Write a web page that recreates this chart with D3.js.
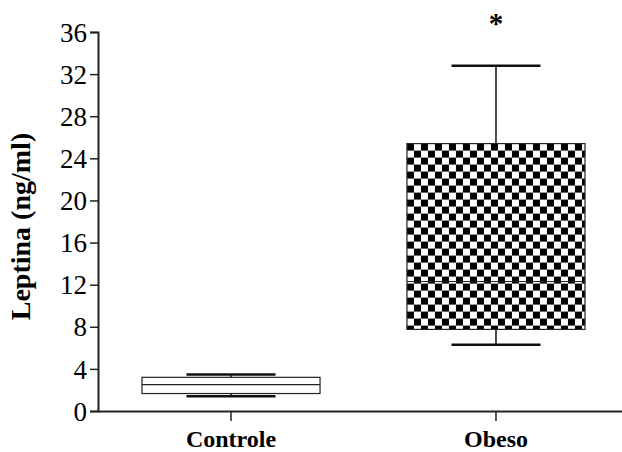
<!DOCTYPE html>
<html>
<head>
<meta charset="utf-8">
<script src="https://cdn.jsdelivr.net/npm/d3@7"></script>
<style>
  body { margin: 0; background: #fff; }
  text { font-family: "Liberation Serif", "Times New Roman", serif; }
</style>
</head>
<body>
<div id="chart"></div>
<script>
// box plot values (ng/ml)
let groups = ["Controle", "Obeso"];
let whiskerLow = [1.4, 6.3];
let q1 = [1.66, 7.75];
let medians = [2.5, 12.3];
let q3 = [3.2, 25.4];
let whiskerHigh = [3.47, 32.8];
let yTicks = [0, 4, 8, 12, 16, 20, 24, 28, 32, 36];
let marks = ["", "*"];

let width = 622, height = 452;
let margin = {top: 32, right: -7, bottom: 41, left: 98};

let svg = d3.select('#chart').append('svg')
  .attr("width", width)
  .attr("height", height);

// checkerboard fill for the second group
let defs = svg.append("defs");
let pat = defs.append("pattern")
  .attr("id", "checker")
  .attr("patternUnits", "userSpaceOnUse")
  .attr("width", 14)
  .attr("height", 14);
pat.append("rect").attr("width", 14).attr("height", 14).attr("fill", "#fff");
pat.append("rect").attr("width", 7).attr("height", 7).attr("fill", "#000");
pat.append("rect").attr("x", 7).attr("y", 7).attr("width", 7).attr("height", 7).attr("fill", "#000");

let y = d3.scaleLinear()
  .domain([0, 36])
  .range([height - margin.bottom, margin.top]);

// range runs a little past the right edge, the axis line is clipped there
let x = d3.scaleBand()
  .domain(groups)
  .range([margin.left, width - margin.right])
  .paddingInner(0.328)
  .paddingOuter(0.166);

// axes
let yAxis = svg.append("g")
  .attr("transform", `translate(${margin.left},0)`)
  .call(d3.axisLeft(y).tickValues(yTicks).tickSize(8).tickPadding(3));
yAxis.select(".domain").attr("stroke", "#222").attr("stroke-width", 2);
yAxis.selectAll(".tick line").attr("stroke", "#222").attr("stroke-width", 1.5);
yAxis.selectAll(".tick text")
  .attr("font-size", 27)
  .attr("font-family", "Liberation Serif")
  .attr("dy", "0.34em")
  .attr("fill", "#000");

let xAxis = svg.append("g")
  .attr("transform", `translate(0,${height - margin.bottom})`)
  .call(d3.axisBottom(x).tickSize(10).tickPadding(9).tickSizeOuter(0));
xAxis.select(".domain").attr("stroke", "#222").attr("stroke-width", 2);
xAxis.selectAll(".tick line").attr("stroke", "#222").attr("stroke-width", 1.5);
xAxis.selectAll(".tick text")
  .attr("font-size", 24)
  .attr("font-weight", "bold")
  .attr("font-family", "Liberation Serif")
  .attr("fill", "#000");

// y title
svg.append("text")
  .attr("transform", `translate(30,${(y(0) + y(36)) / 2 + 5}) rotate(-90)`)
  .attr("text-anchor", "middle")
  .attr("font-size", 28)
  .attr("font-weight", "bold")
  .text("Leptina (ng/ml)");

// boxes
let bw = x.bandwidth();
let g = svg.append("g");
groups.forEach((name, i) => {
  let cx = x(name) + bw / 2;
  let capW = bw / 2;
  // whiskers
  g.append("line")
    .attr("x1", cx).attr("x2", cx)
    .attr("y1", y(whiskerHigh[i])).attr("y2", y(q3[i]))
    .attr("stroke", "#111").attr("stroke-width", 1.5);
  g.append("line")
    .attr("x1", cx).attr("x2", cx)
    .attr("y1", y(q1[i])).attr("y2", y(whiskerLow[i]))
    .attr("stroke", "#111").attr("stroke-width", 1.5);
  [whiskerHigh[i], whiskerLow[i]].forEach(v => {
    g.append("line")
      .attr("x1", cx - capW / 2).attr("x2", cx + capW / 2)
      .attr("y1", y(v)).attr("y2", y(v))
      .attr("stroke", "#111").attr("stroke-width", 2.5);
  });
  // box
  if (i === 1) {
    pat.attr("x", x(name)).attr("y", y(q3[i]));
  }
  g.append("rect")
    .attr("x", x(name))
    .attr("y", y(q3[i]))
    .attr("width", bw)
    .attr("height", y(q1[i]) - y(q3[i]))
    .attr("fill", i === 1 ? "url(#checker)" : "#fff")
    .attr("stroke", "#222")
    .attr("stroke-width", 1.2);
  g.append("line")
    .attr("x1", x(name)).attr("x2", x(name) + bw)
    .attr("y1", y(medians[i])).attr("y2", y(medians[i]))
    .attr("stroke", "#222").attr("stroke-width", 1.2);
  if (marks[i]) {
    g.append("text")
      .attr("x", cx)
      .attr("y", y(whiskerHigh[i]) - 33)
      .attr("text-anchor", "middle")
      .attr("font-size", 29)
      .attr("font-weight", "bold")
      .attr("font-family", "Liberation Sans")
      .text(marks[i]);
  }
});
</script>
</body>
</html>
